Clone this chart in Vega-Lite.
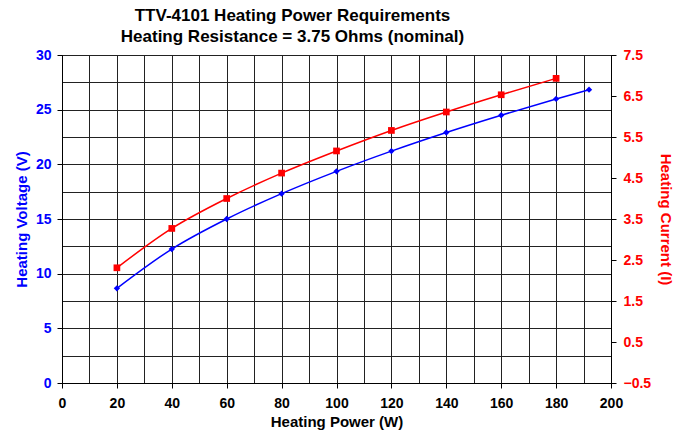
{
  "$schema": "https://vega.github.io/schema/vega-lite/v6.json",
  "autosize": "none",
  "width": 549,
  "height": 328,
  "padding": {"left": 62, "top": 55, "right": 65, "bottom": 57},
  "background": "white",
  "config": {
    "font": "Liberation Sans",
    "view": {"stroke": "black", "strokeWidth": 1},
    "axis": {"labelFont": "Liberation Sans", "titleFont": "Liberation Sans", "labelFontWeight": "bold", "titleFontWeight": "bold", "labelFontSize": 14, "titleFontSize": 15, "domainColor": "black", "tickColor": "black", "labelOverlap": false, "labelFlush": false, "labelBound": false}
  },
  "title": {
    "text": ["TTV-4101 Heating Power Requirements", "Heating Resistance = 3.75 Ohms (nominal)"],
    "fontSize": 17, "font": "Liberation Sans", "fontWeight": "bold", "color": "black",
    "anchor": "middle", "dx": -44, "offset": 2, "lineHeight": 21
  },
  "data": {"values": [
    {"P": 20, "V": 8.66, "I": 2.31},
    {"P": 40, "V": 12.25, "I": 3.27},
    {"P": 60, "V": 15.0, "I": 4.0},
    {"P": 80, "V": 17.32, "I": 4.62},
    {"P": 100, "V": 19.36, "I": 5.16},
    {"P": 120, "V": 21.21, "I": 5.66},
    {"P": 140, "V": 22.91, "I": 6.11},
    {"P": 160, "V": 24.49, "I": 6.53},
    {"P": 180, "V": 25.98, "I": 6.93},
    {"P": 192, "V": 26.83, "I": null}
  ]},
  "encoding": {
    "x": {"field": "P", "type": "quantitative", "scale": {"domain": [0, 200], "nice": false},
      "axis": {"title": "Heating Power (W)", "titleColor": "black", "labelColor": "black",
        "values": [0,10,20,30,40,50,60,70,80,90,100,110,120,130,140,150,160,170,180,190,200],
        "labelExpr": "datum.value % 20 === 0 ? datum.label : ''",
        "tickColor": {"condition": {"test": "datum.value % 20 === 0", "value": "black"}, "value": "transparent"},
        "tickSize": 5, "labelPadding": 8, "titlePadding": 4,
        "grid": true, "gridColor": "#222", "gridOpacity": 1, "gridWidth": 1}}
  },
  "layer": [
    {
      "encoding": {
        "y": {"field": "V", "type": "quantitative", "scale": {"domain": [0, 30], "nice": false},
          "axis": {"title": "Heating Voltage (V)", "titleColor": "#0000FF", "labelColor": "#0000FF", "orient": "left",
            "values": [0,2.5,5,7.5,10,12.5,15,17.5,20,22.5,25,27.5,30],
            "labelExpr": "datum.value % 5 === 0 ? datum.label : ''",
            "tickColor": {"condition": {"test": "datum.value % 5 === 0", "value": "black"}, "value": "transparent"},
            "tickSize": 5, "labelPadding": 6, "titlePadding": 6,
            "grid": true, "gridColor": "#222", "gridOpacity": 1, "gridWidth": 1}}
      },
      "layer": [
        {"mark": {"type": "line", "color": "#0000FF", "strokeWidth": 1.5, "interpolate": "monotone"}},
        {"mark": {"type": "point", "shape": "diamond", "filled": true, "color": "#0000FF", "size": 40, "opacity": 1}}
      ]
    },
    {
      "transform": [{"filter": "isValid(datum.I)"}],
      "encoding": {
        "y": {"field": "I", "type": "quantitative", "scale": {"domain": [-0.5, 7.5], "nice": false},
          "axis": {"title": "Heating Current (I)", "titleColor": "#FF0000", "labelColor": "#FF0000", "orient": "right",
            "values": [-0.5,0.5,1.5,2.5,3.5,4.5,5.5,6.5,7.5], "format": ".1f",
            "tickSize": 5, "labelPadding": 7, "titlePadding": 7, "grid": false}}
      },
      "layer": [
        {"mark": {"type": "line", "color": "#FF0000", "strokeWidth": 1.5, "interpolate": "monotone"}},
        {"mark": {"type": "point", "shape": "square", "filled": true, "color": "#FF0000", "size": 45, "opacity": 1}}
      ]
    }
  ],
  "resolve": {"scale": {"y": "independent"}}
}
